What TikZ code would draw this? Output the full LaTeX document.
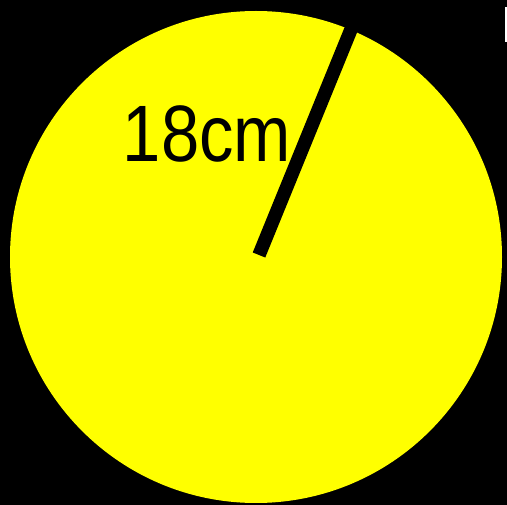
\documentclass[tikz,border=0pt]{standalone}
\usepackage{fontspec}
\setmainfont{Liberation Sans}
\begin{document}
\begin{tikzpicture}[x=1pt,y=-1pt,
  disc/.style={fill={rgb,255:red,255;green,255;blue,0}},
  radius line/.style={line width=13.5pt,black},
  lbl/.style={font=\fontsize{80}{84}\selectfont,inner sep=0pt,xscale=0.86}]
\fill[black] (0,0) rectangle (507,505);
\useasboundingbox (0,0) rectangle (507,505);
\fill[white] (505,7) rectangle (507,42);
\coordinate (c) at (256,257);
\fill[disc] (c) circle[radius=246];
\node[lbl] (t) at (207,134) {18cm};
\coordinate (e) at (352,27);
\draw[radius line] (259,255) -- (e);
\end{tikzpicture}
\end{document}
